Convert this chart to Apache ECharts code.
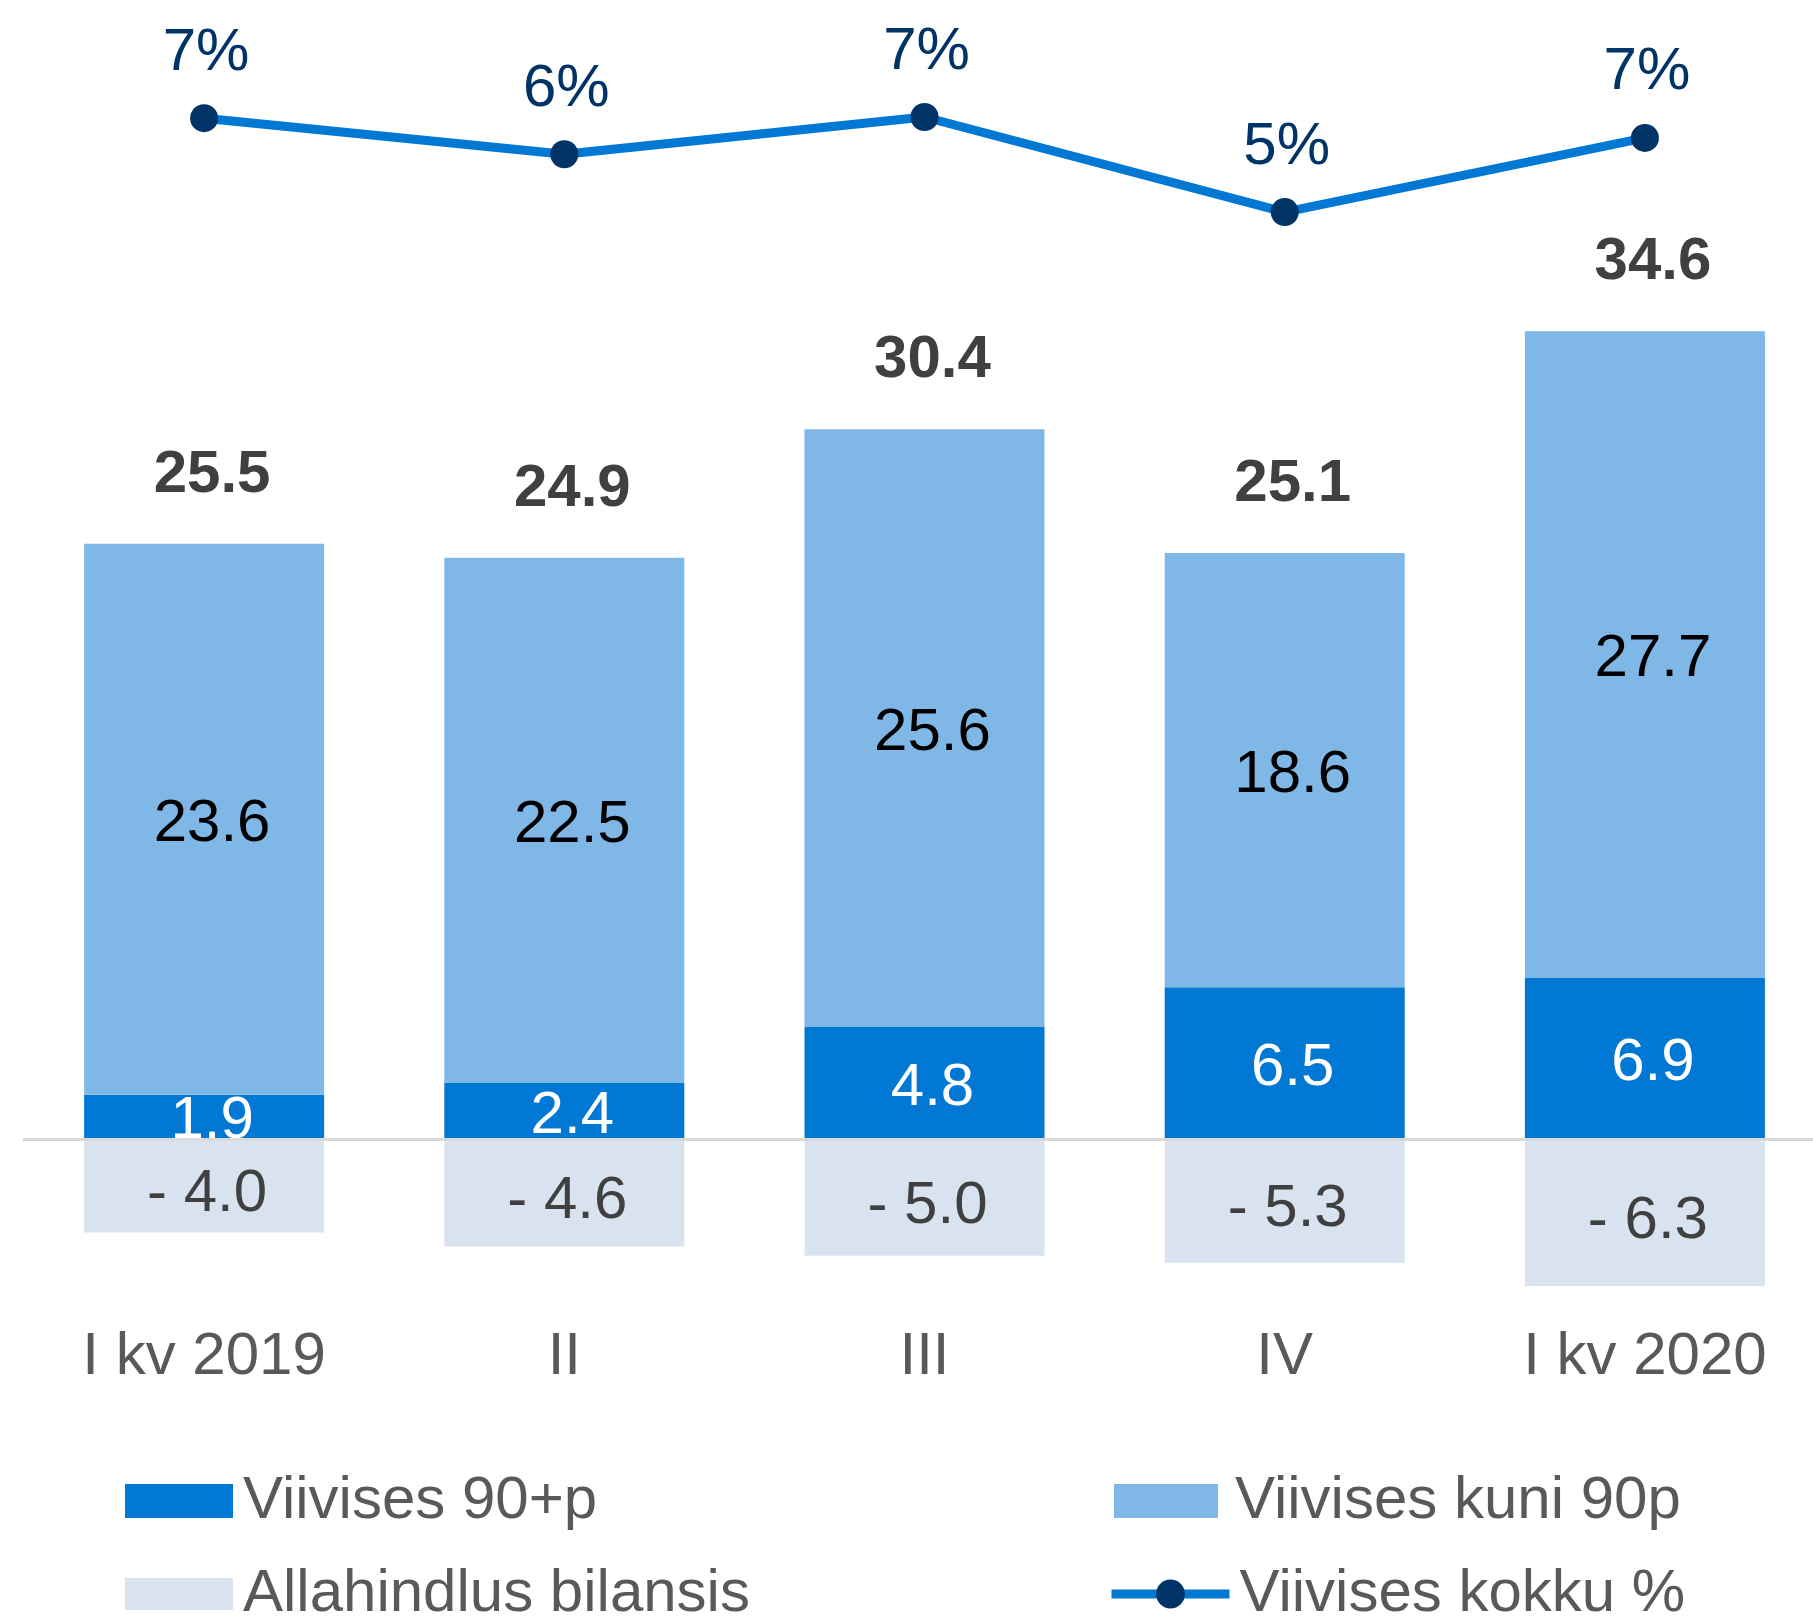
<!DOCTYPE html>
<html><head><meta charset="utf-8">
<script src="https://cdn.jsdelivr.net/npm/echarts@6/dist/echarts.min.js"></script>
<style>html,body{margin:0;padding:0;background:#fff}#c{width:1813px;height:1620px}</style>
</head><body><div id="c"></div>
<script>
const categories = ['I kv 2019', 'II', 'III', 'IV', 'I kv 2020'];
const over90 = [1.9, 2.4, 4.8, 6.5, 6.9];
const upTo90 = [23.6, 22.5, 25.6, 18.6, 27.7];
const allowance = [-4.0, -4.6, -5.0, -5.3, -6.3];
const totals = [25.5, 24.9, 30.4, 25.1, 34.6];
const overduePct = [7.4, 6.45, 7.43, 4.93, 6.88];

const FONT = "'Liberation Sans', Arial, sans-serif";
const C_DARK = '#0078D4', C_LIGHT = '#7FB8E6', C_PALE = '#D9E3EF', C_NAVY = '#003366';

const chart = echarts.init(document.getElementById('c'), null, {renderer: 'canvas'});
function legendItem(name, left, top, w, h, pad, icon) {
  const o = {
    data: [name], left: left, top: top, padding: 0, orient: 'horizontal',
    itemWidth: w, itemHeight: h, selectedMode: false,
    textStyle: {fontFamily: FONT, fontSize: 60, color: '#595959', padding: [0, 0, 0, pad]}
  };
  if (icon) o.icon = icon;
  else o.lineStyle = {width: 9};
  return o;
}
chart.setOption({
  animation: false,
  backgroundColor: '#fff',
  textStyle: {fontFamily: FONT},
  grid: {left: 24, right: -12, top: 88.5, height: 1237.3, containLabel: false, outerBoundsMode: 'none'},
  legend: [
    legendItem('Viivises 90+p', 125, 1471, 108, 34, 5, 'rect'),
    legendItem('Allahindlus bilansis', 125, 1564, 108, 32, 5, 'rect'),
    legendItem('Viivises kuni 90p', 1114, 1471, 104, 34, 12, 'rect'),
    legendItem('Viivises kokku %', 1107, 1564, 118, 36, 5, null)
  ],
  xAxis: {
    type: 'category', data: categories, z: 3,
    axisLine: {show: true, onZero: true, lineStyle: {color: '#D9D9D9', width: 3}},
    axisTick: {show: false},
    axisLabel: {fontFamily: FONT, fontSize: 60, color: '#595959', margin: 2}
  },
  yAxis: [
    {type: 'value', min: -8, max: 45, show: false, splitLine: {show: false}},
    {type: 'value', min: -24.37, max: 8.18, show: false, splitLine: {show: false}}
  ],
  series: [
    {
      name: 'Viivises 90+p', type: 'bar', stack: 'a', data: over90, barWidth: 240,
      itemStyle: {color: C_DARK},
      label: {show: true, position: 'inside', offset: [8, 5], fontFamily: FONT, fontSize: 60, color: '#fff',
        formatter: p => p.value.toFixed(1)}
    },
    {
      name: 'Viivises kuni 90p', type: 'bar', stack: 'a', data: upTo90, barWidth: 240,
      itemStyle: {color: C_LIGHT},
      label: {show: true, position: 'inside', offset: [8, 5], fontFamily: FONT, fontSize: 60, color: '#000',
        formatter: p => p.value.toFixed(1)}
    },
    {
      name: 'Allahindlus bilansis', type: 'bar', stack: 'a', data: allowance, barWidth: 240,
      itemStyle: {color: C_PALE},
      label: {show: true, position: 'inside', offset: [3, 9], fontFamily: FONT, fontSize: 60, color: '#404040',
        formatter: p => '- ' + Math.abs(p.value).toFixed(1)}
    },
    {
      name: 'totals', type: 'line', data: totals, symbol: 'circle', symbolSize: 1, silent: true,
      itemStyle: {color: 'rgba(0,0,0,0)'}, lineStyle: {width: 0, color: 'rgba(0,0,0,0)'}, z: 5,
      label: {show: true, position: 'top', distance: 38, offset: [8, 0], fontFamily: FONT, fontSize: 60,
        fontWeight: 'bold', color: '#404040', formatter: p => p.value.toFixed(1)}
    },
    {
      name: 'Viivises kokku %', type: 'line', yAxisIndex: 1, data: overduePct,
      symbol: 'circle', symbolSize: 28, clip: false, z: 6,
      lineStyle: {color: C_DARK, width: 9},
      itemStyle: {color: C_NAVY},
      label: {show: true, position: 'top', distance: 21, offset: [2, 0], fontFamily: FONT, fontSize: 60,
        color: C_NAVY, formatter: p => Math.round(p.value) + '%'}
    }
  ]
});
</script></body></html>
